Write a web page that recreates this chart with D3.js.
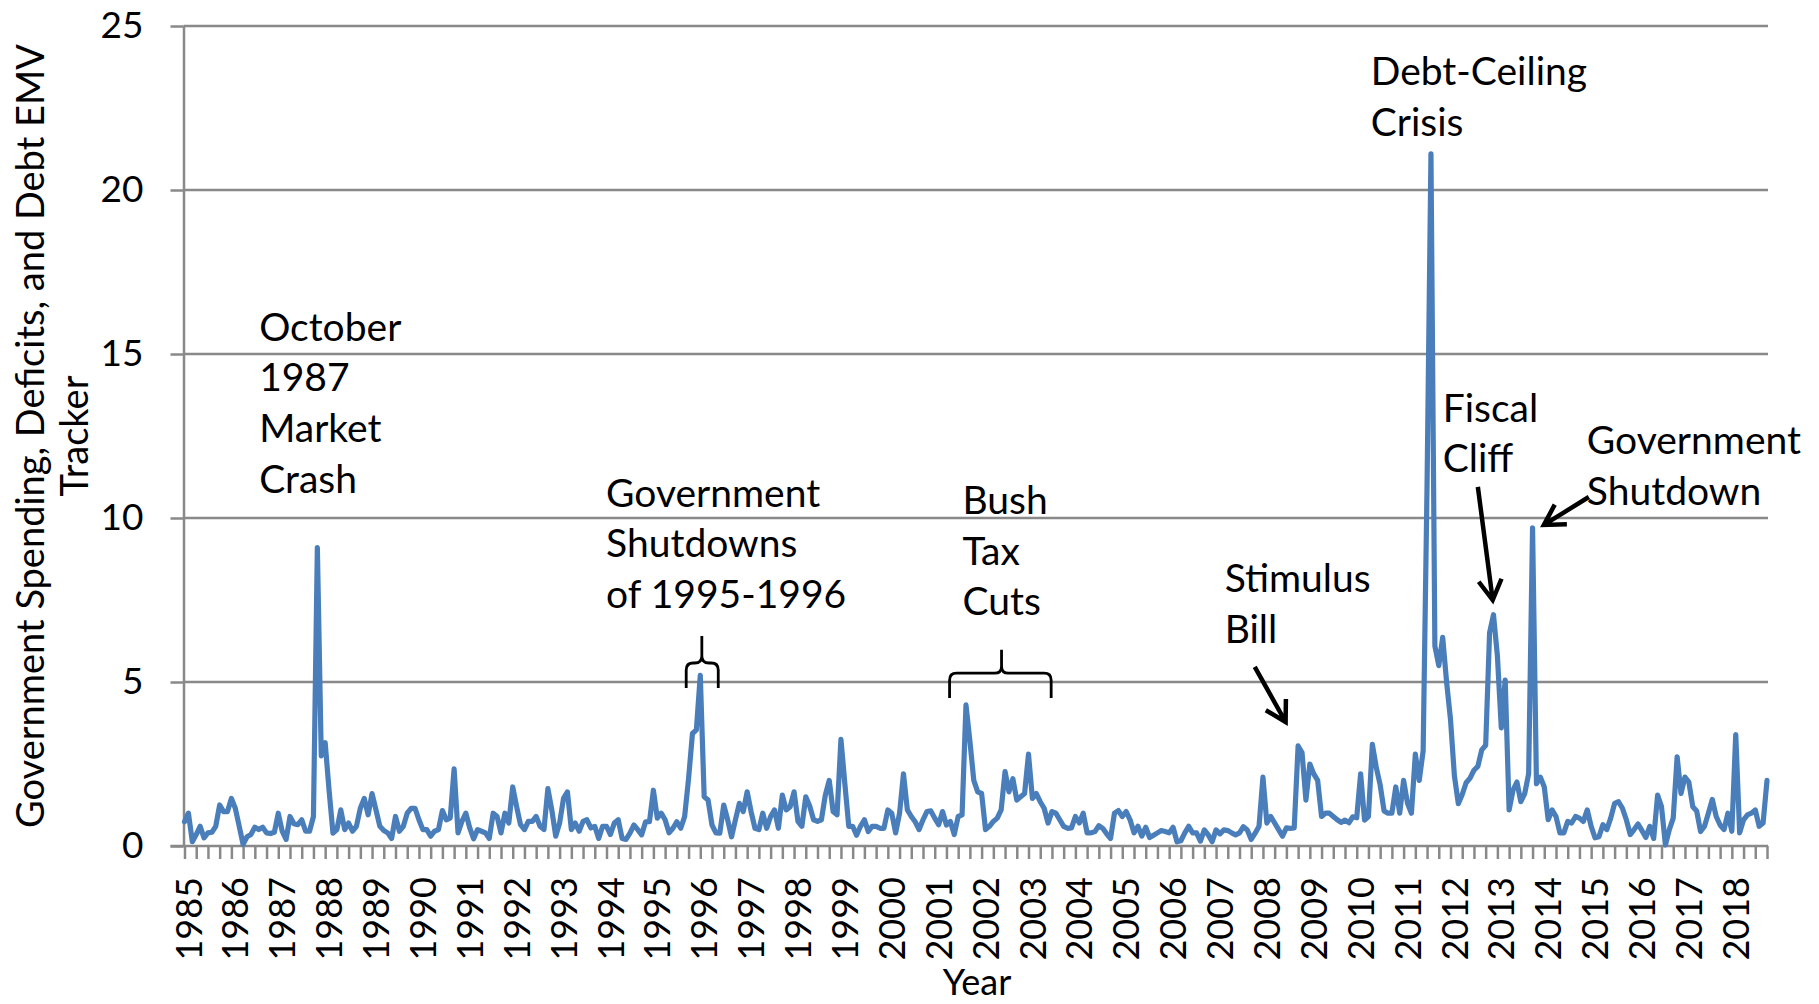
<!DOCTYPE html>
<html><head><meta charset="utf-8">
<script src="https://cdn.jsdelivr.net/npm/d3@7"></script>
<style>
body{margin:0;background:#fff;}
svg{display:block;}
text{font-family:Lato,"Open Sans",sans-serif;fill:#000;}
</style>
</head><body>
<svg id="chart" width="1819" height="1004"></svg>
<script>
// ---- DATA (monthly, Jan 1985 .. Oct 2018) ----
const startYear = 1985;
const emv1985_1989 = [
  0.74,1.0,0.13,0.35,0.6,0.25,0.4,0.42,0.6,1.25,1.05,1.05,
  1.45,1.15,0.6,0.05,0.28,0.35,0.57,0.5,0.57,0.4,0.38,0.42,
  1.0,0.45,0.2,0.9,0.68,0.65,0.8,0.45,0.45,0.9,9.1,2.75,
  3.15,1.7,0.39,0.5,1.1,0.5,0.7,0.45,0.6,1.15,1.45,0.95,
  1.6,1.1,0.6,0.47,0.4,0.23,0.9,0.45,0.6,1.0,1.15,1.15
];
const emv1990_1999 = [
  0.8,0.5,0.5,0.3,0.45,0.5,1.08,0.8,0.85,2.35,0.4,0.75,
  1.0,0.55,0.22,0.5,0.45,0.4,0.23,1.0,0.9,0.4,1.0,0.7,
  1.8,1.2,0.65,0.5,0.75,0.75,0.9,0.6,0.5,1.75,1.1,0.3,
  0.7,1.45,1.65,0.5,0.7,0.45,0.75,0.8,0.55,0.6,0.23,0.6,
  0.6,0.35,0.7,0.8,0.23,0.2,0.39,0.64,0.5,0.34,0.74,0.74,
  1.7,0.85,1.0,0.8,0.4,0.54,0.74,0.54,0.9,2.05,3.43,3.54,
  5.2,1.5,1.4,0.64,0.4,0.39,1.25,0.8,0.28,0.8,1.3,1.05,
  1.65,1.05,0.54,0.5,1.0,0.54,0.9,1.1,0.54,1.55,1.1,1.2,
  1.65,0.75,0.6,1.5,1.22,0.8,0.75,0.8,1.55,2.0,1.05,0.95,
  3.25,1.9,0.6,0.6,0.33,0.6,0.8,0.44,0.6,0.6,0.54,0.54
];
const emv2000_2009 = [
  1.1,1.0,0.4,1.0,2.2,1.1,0.9,0.74,0.5,0.8,1.05,1.07,
  0.85,0.65,1.05,0.64,0.75,0.35,0.9,0.95,4.3,3.2,2.0,1.65,
  1.6,0.5,0.6,0.75,0.85,1.1,2.27,1.65,2.05,1.4,1.5,1.6,
  2.8,1.45,1.6,1.35,1.15,0.7,1.05,1.0,0.8,0.6,0.54,0.55,
  0.9,0.7,1.0,0.4,0.4,0.44,0.62,0.54,0.37,0.23,1.0,1.08,
  0.9,1.05,0.8,0.4,0.6,0.3,0.57,0.26,0.33,0.4,0.47,0.44,
  0.4,0.57,0.13,0.16,0.4,0.6,0.4,0.4,0.15,0.49,0.34,0.13,
  0.49,0.37,0.49,0.47,0.4,0.34,0.4,0.59,0.49,0.2,0.39,0.6,
  2.1,0.7,0.9,0.7,0.5,0.3,0.55,0.54,0.55,3.05,2.85,1.4,
  2.5,2.2,2.0,0.9,1.0,1.0,0.9,0.8,0.72,0.79,0.71,0.89
];
const emv2010_2018 = [
  0.86,2.2,0.79,0.9,3.1,2.4,1.86,1.07,1.0,1.0,1.8,1.0,
  2.0,1.3,1.0,2.8,2.0,2.9,11,21.1,6.1,5.5,6.36,5.0,
  3.86,2.14,1.29,1.57,1.93,2.07,2.31,2.43,2.93,3.07,6.5,7.05,
  5.8,3.6,5.06,1.1,1.7,1.95,1.35,1.6,2.2,9.7,1.9,2.1,
  1.8,0.8,1.1,0.9,0.4,0.4,0.75,0.7,0.9,0.85,0.75,1.1,
  0.6,0.25,0.28,0.65,0.5,0.85,1.3,1.35,1.15,0.8,0.35,0.5,
  0.67,0.47,0.26,0.6,0.23,1.55,1.2,0.03,0.5,0.85,2.72,1.6,
  2.1,1.95,1.2,1.07,0.44,0.6,1.0,1.42,0.9,0.64,0.5,1.0,
  0.45,3.4,0.4,0.8,0.95,1.0,1.1,0.6,0.7,2.0
];
const yTicks = [0,5,10,15,20,25];
const yearLabels = d3.range(1985, 2019);
const yTitleLines = ["Government Spending, Deficits, and Debt EMV", "Tracker"];
const xTitle = "Year";

// annotations in data space (month index, value)
const notes = [
  {lines:["October","1987","Market","Crash"], i:19.1, v:15.4},
  {lines:["Government","Shutdowns","of 1995-1996"], i:107.9, v:10.34},
  {lines:["Bush","Tax","Cuts"], i:199.1, v:10.12},
  {lines:["Stimulus","Bill"], i:266.2, v:7.74},
  {lines:["Debt-Ceiling","Crisis"], i:303.6, v:23.2},
  {lines:["Fiscal","Cliff"], i:322, v:12.93},
  {lines:["Government","Shutdown"], i:358.9, v:11.95}
];
const arrows = [
  {from:[273.9,5.46], to:[281.8,3.78]},
  {from:[331,10.95], to:[334.8,7.5]},
  {from:[359.4,10.64], to:[347.9,9.79]}
];
const braces = [
  {i0:128.4, i1:136.6, ic:132.4, vTop:6.4, vBar:5.58, vBot:4.82},
  {i0:195.8, i1:221.8, ic:209.1, vTop:5.98, vBar:5.27, vBot:4.51}
];

// ---- CHART ----
const values = [].concat(emv1985_1989, emv1990_1999, emv2000_2009, emv2010_2018);
const svg = d3.select("#chart");
const pLeft = 183.5, pRight = 1768, pTop = 26, pBottom = 846;
const x = d3.scaleLinear().domain([0, values.length - 1]).range([184.5, 1767]);
const y = d3.scaleLinear().domain([0, 25]).range([pBottom, pTop]);
const grid = "#898989";

// gridlines
svg.append("g").selectAll("line").data(yTicks.filter(d => d > 0)).join("line")
  .attr("x1", pLeft).attr("x2", pRight)
  .attr("y1", d => y(d)).attr("y2", d => y(d))
  .attr("stroke", grid).attr("stroke-width", 2.5);

// y axis
const yAxis = svg.append("g").attr("transform", `translate(${pLeft},0)`)
  .call(d3.axisLeft(y).tickValues(yTicks).tickSize(13).tickSizeOuter(0).tickPadding(27));
yAxis.select(".domain").attr("stroke", grid).attr("stroke-width", 2.5);
yAxis.selectAll(".tick line").attr("stroke", grid).attr("stroke-width", 2.5);
yAxis.selectAll(".tick text").attr("font-size", 37).attr("font-family", "Lato").attr("fill", "#000");

// x axis
const xAxis = svg.append("g").attr("transform", `translate(0,${pBottom})`)
  .call(d3.axisBottom(x).tickValues(d3.range(0, values.length, 3)).tickSize(13).tickSizeOuter(0).tickFormat(""));
xAxis.select(".domain").remove();
xAxis.selectAll(".tick line").attr("stroke", grid).attr("stroke-width", 2.5);
svg.append("line").attr("x1", pLeft - 13).attr("x2", pRight).attr("y1", pBottom).attr("y2", pBottom)
  .attr("stroke", grid).attr("stroke-width", 2.5);

// year labels
svg.append("g").selectAll("text").data(yearLabels).join("text")
  .attr("transform", d => `translate(${x((d - startYear) * 12) + 3},877) rotate(-90)`)
  .attr("text-anchor", "end").attr("dominant-baseline", "central")
  .attr("font-size", 36).text(d => d);

// titles
svg.append("text").attr("x", 977).attr("y", 995).attr("text-anchor", "middle")
  .attr("font-size", 36).text(xTitle);
yTitleLines.forEach((t, k) => {
  svg.append("text").attr("transform", `translate(${29 + k * 44},436) rotate(-90)`)
    .attr("text-anchor", "middle").attr("dominant-baseline", "central")
    .attr("font-size", 38).text(t);
});

// series line
svg.append("path").datum(values)
  .attr("fill", "none").attr("stroke", "#4a7ebb").attr("stroke-width", 5.2)
  .attr("stroke-linejoin", "round").attr("stroke-linecap", "round")
  .attr("d", d3.line().x((d, i) => x(i)).y(d => y(d)));

// annotations
const ann = svg.append("g");
notes.forEach(n => {
  const t = ann.append("text").attr("x", x(n.i)).attr("y", y(n.v)).attr("font-size", 39);
  n.lines.forEach((l, k) => t.append("tspan").attr("x", x(n.i)).attr("dy", k === 0 ? 0 : 50.6).text(l));
});
arrows.forEach(a => {
  const x1 = x(a.from[0]), y1 = y(a.from[1]), x2 = x(a.to[0]), y2 = y(a.to[1]);
  const ang = Math.atan2(y1 - y2, x1 - x2), L = 23, sp = Math.PI / 6;
  const p = d3.path();
  p.moveTo(x1, y1); p.lineTo(x2, y2);
  p.moveTo(x2 + L * Math.cos(ang + sp), y2 + L * Math.sin(ang + sp));
  p.lineTo(x2, y2);
  p.lineTo(x2 + L * Math.cos(ang - sp), y2 + L * Math.sin(ang - sp));
  ann.append("path").attr("d", p.toString()).attr("fill", "none").attr("stroke", "#000")
    .attr("stroke-width", 4.5).attr("stroke-linejoin", "miter").attr("stroke-linecap", "butt");
});
braces.forEach(b => {
  const x0 = x(b.i0), x1 = x(b.i1), xc = x(b.ic), yt = y(b.vTop), yb = y(b.vBar), ye = y(b.vBot), r = 7;
  const d = `M${x0},${ye} L${x0},${yb + r} Q${x0},${yb} ${x0 + r},${yb} L${xc - r},${yb} Q${xc},${yb} ${xc},${yb - r} L${xc},${yt}` +
            ` M${x1},${ye} L${x1},${yb + r} Q${x1},${yb} ${x1 - r},${yb} L${xc + r},${yb} Q${xc},${yb} ${xc},${yb - r}`;
  ann.append("path").attr("d", d).attr("fill", "none").attr("stroke", "#000").attr("stroke-width", 2.8);
});
</script>
</body></html>
